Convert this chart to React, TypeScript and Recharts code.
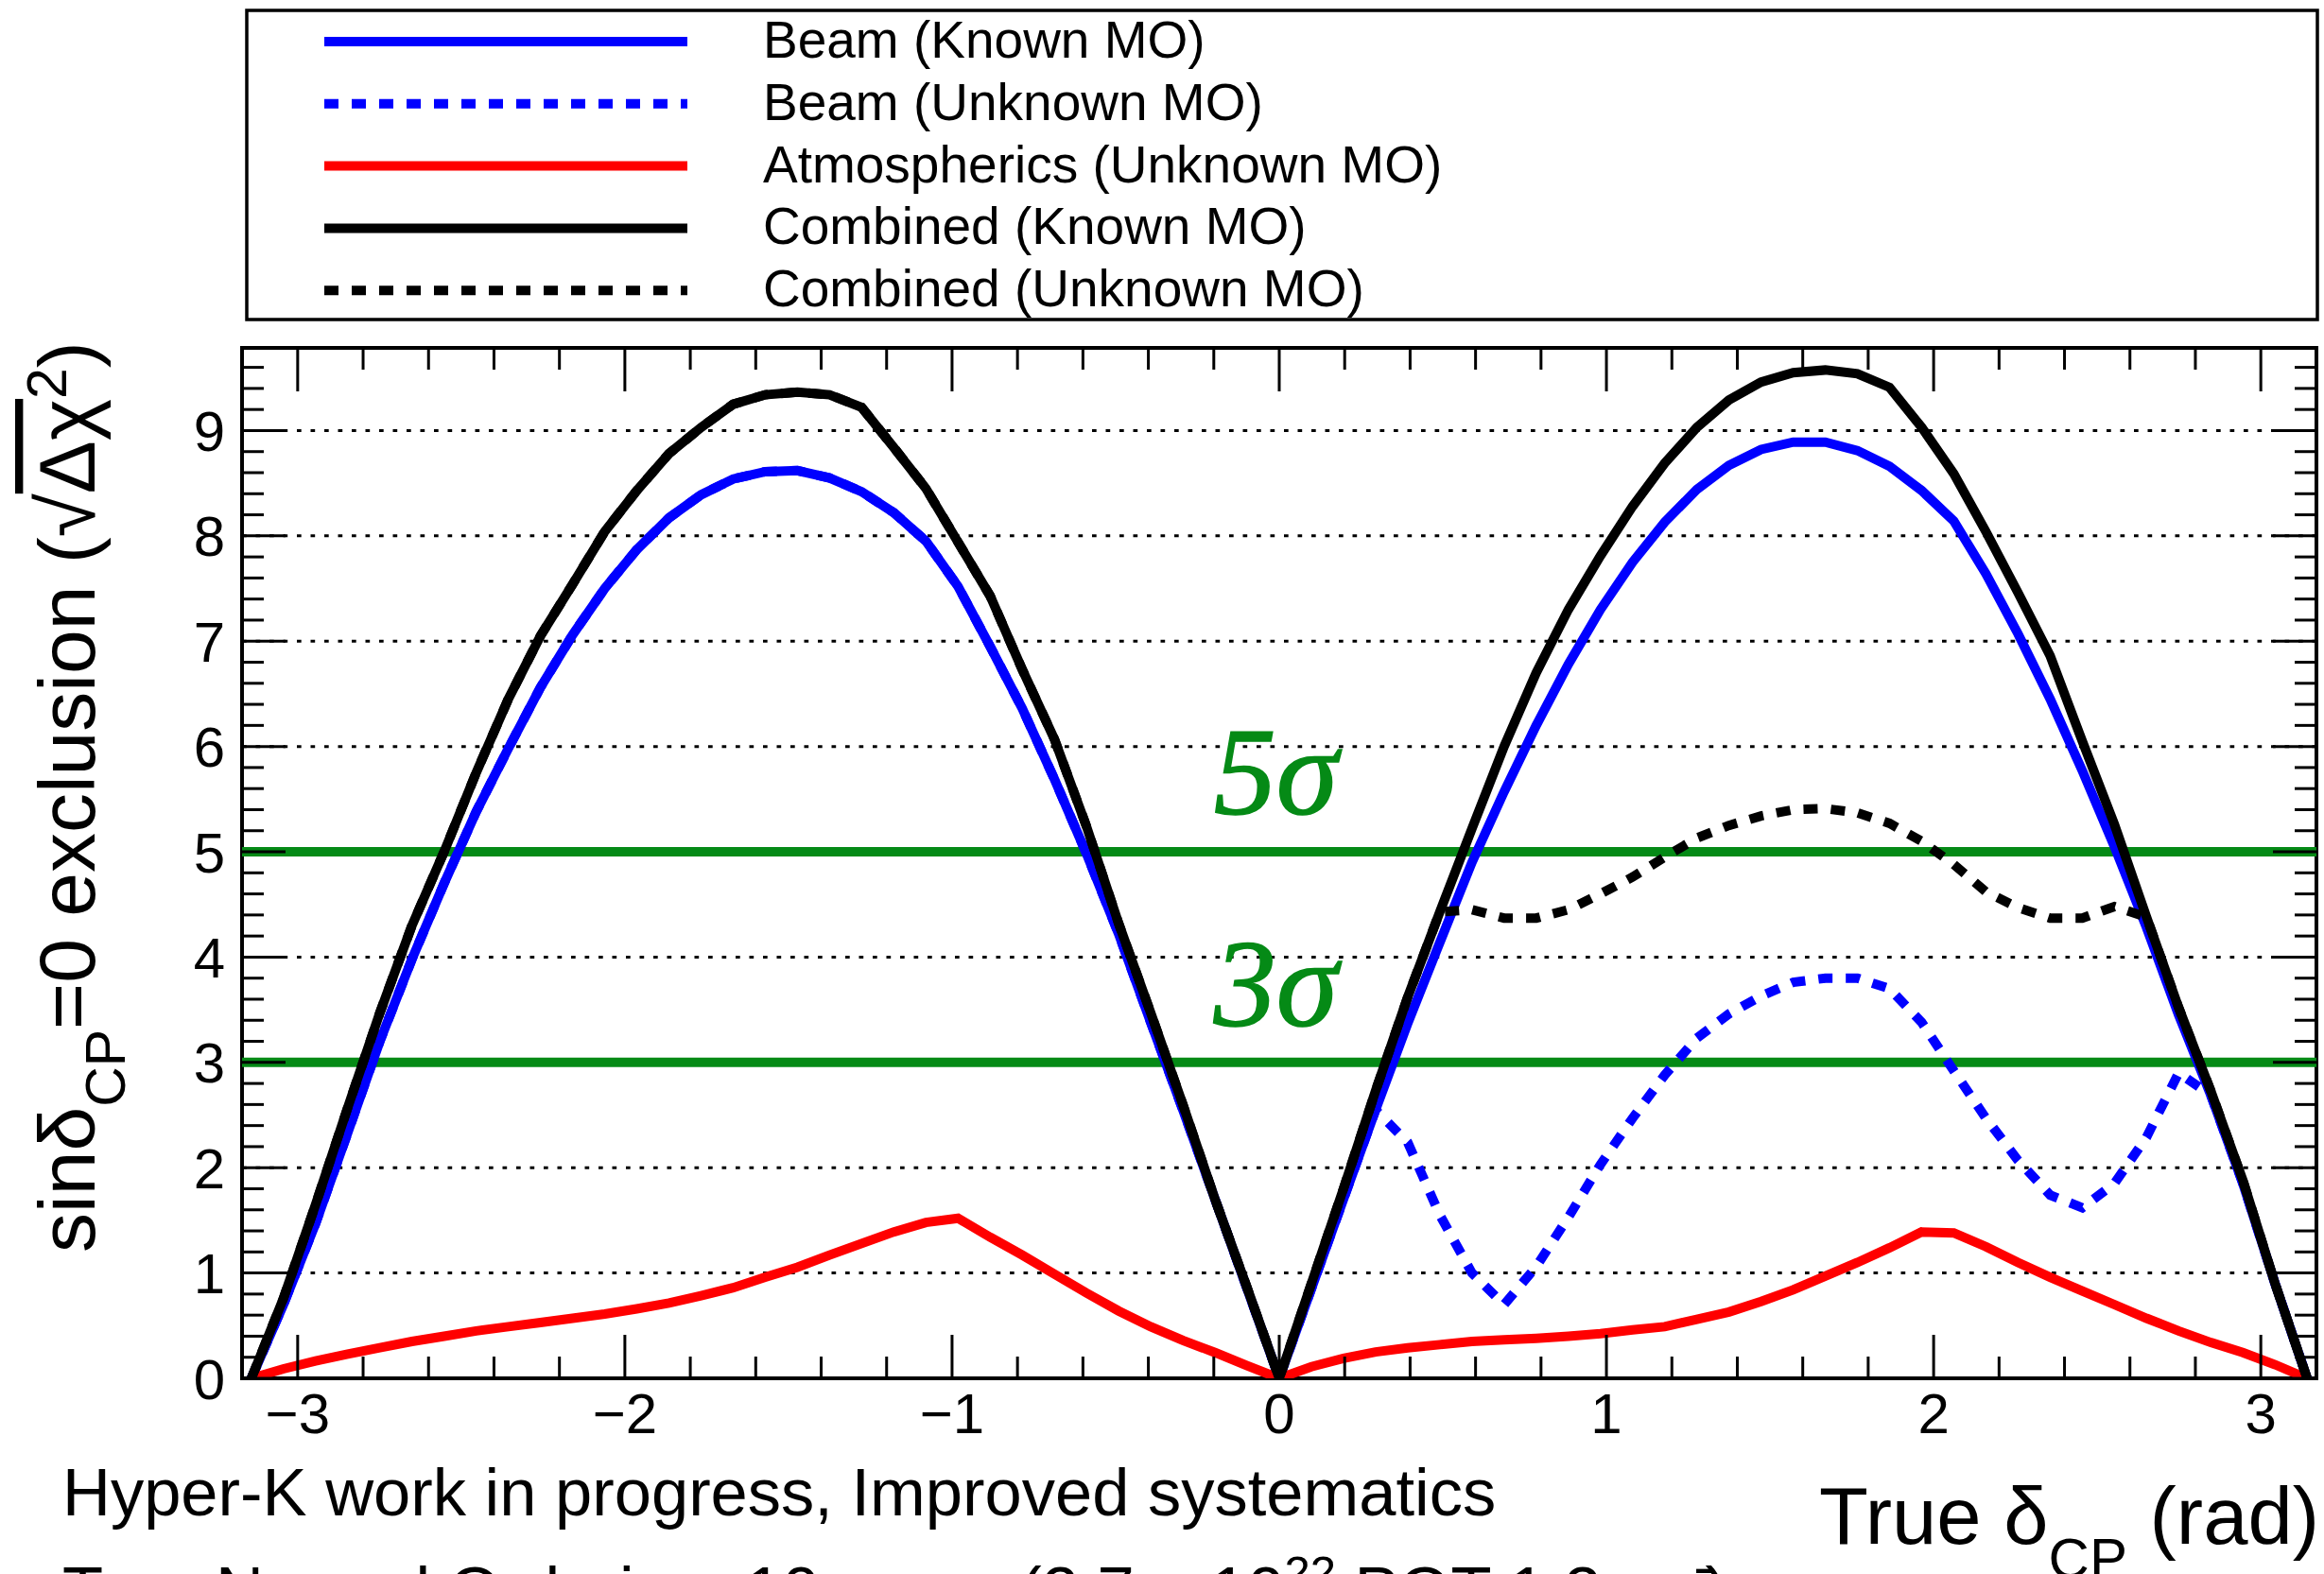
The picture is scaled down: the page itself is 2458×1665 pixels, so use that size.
import React from 'react';
import {
  ComposedChart,
  Line,
  XAxis,
  YAxis,
  CartesianGrid,
  ReferenceLine,
  ReferenceArea,
  ReferenceDot,
  Legend,
} from 'recharts';

const CHART_W = 2458;
const CHART_H = 1665;
// each side carries two 1px-wide axes (major + minor ticks), so the plot frame
// ends up at left 256, right 2450, top 368, bottom 1458
const MARGIN = { top: 366, right: 6, bottom: 205, left: 254 };
const X_DOMAIN: [number, number] = [-3.17, 3.17];
const Y_DOMAIN: [number, number] = [0, 9.785];

const SANS = '"Liberation Sans", Arial, Helvetica, sans-serif';
const SERIF = '"Liberation Serif", "Times New Roman", Times, serif';
const BLUE = '#0000ff';
const RED = '#ff0000';
const BLACK = '#000000';
const GREEN = '#058a16';
const DOTTED = '15 14';

// true delta_CP sampling points (rad)
const deltaCP = [
  -3.1416, -3.0434, -2.9452, -2.8471, -2.7489, -2.6507, -2.5525, -2.4544, -2.3562, -2.258, -2.1598,
  -2.0617, -1.9635, -1.8653, -1.7671, -1.669, -1.5708, -1.4726, -1.3744, -1.2763, -1.1781, -1.0799,
  -0.9817, -0.8836, -0.7854, -0.6872, -0.589, -0.4909, -0.3927, -0.2945, -0.1963, -0.0982, 0,
  0.0982, 0.1963, 0.2945, 0.3927, 0.4909, 0.589, 0.6872, 0.7854, 0.8836, 0.9817, 1.0799, 1.1781,
  1.2763, 1.3744, 1.4726, 1.5708, 1.669, 1.7671, 1.8653, 1.9635, 2.0617, 2.1598, 2.258, 2.3562,
  2.4544, 2.5525, 2.6507, 2.7489, 2.8471, 2.9452, 3.0434, 3.1416,
];

const beamKnown = [
  0, 0.7, 1.47, 2.33, 3.2, 3.98, 4.7, 5.38, 5.98, 6.56, 7.06,
  7.5, 7.87, 8.17, 8.39, 8.54, 8.61, 8.62, 8.55, 8.42, 8.22, 7.95,
  7.52, 6.95, 6.36, 5.69, 4.98, 4.22, 3.38, 2.55, 1.7, 0.85, 0,
  0.85, 1.7, 2.55, 3.37, 4.14, 4.9, 5.57, 6.2, 6.78, 7.3, 7.75, 8.13,
  8.44, 8.67, 8.82, 8.89, 8.89, 8.81, 8.66, 8.43, 8.14, 7.64, 7.07, 6.45,
  5.77, 5.05, 4.28, 3.45, 2.69, 1.85, 0.9, 0,
];

const beamUnknown = [
  0, 0.7, 1.47, 2.33, 3.2, 3.98, 4.7, 5.38, 5.98, 6.56, 7.06,
  7.5, 7.87, 8.17, 8.39, 8.54, 8.61, 8.62, 8.55, 8.42, 8.22, 7.95,
  7.52, 6.95, 6.36, 5.69, 4.98, 4.22, 3.38, 2.55, 1.7, 0.85, 0,
  0.85, 1.7, 2.55, 2.24, 1.55, 1.0, 0.7, 1.06, 1.53, 2.03, 2.47, 2.88,
  3.23, 3.46, 3.63, 3.76, 3.8, 3.8, 3.7, 3.38, 2.92, 2.47, 2.07, 1.74,
  1.62, 1.85, 2.29, 2.9, 2.69, 1.85, 0.9, 0,
];

const atmUnknown = [
  0, 0.09, 0.165, 0.23, 0.29, 0.35, 0.4, 0.45, 0.49, 0.53, 0.57,
  0.61, 0.66, 0.715, 0.785, 0.86, 0.96, 1.055, 1.17, 1.28, 1.39, 1.48,
  1.52, 1.34, 1.17, 0.99, 0.81, 0.64, 0.49, 0.36, 0.245, 0.12, 0,
  0.11, 0.19, 0.25, 0.29, 0.32, 0.35, 0.365, 0.38, 0.4, 0.425, 0.46, 0.49,
  0.56, 0.63, 0.73, 0.84, 0.97, 1.1, 1.24, 1.39, 1.38, 1.25, 1.1, 0.96,
  0.83, 0.7, 0.57, 0.45, 0.34, 0.245, 0.13, 0,
];

const combinedKnown = [
  0, 0.76, 1.65, 2.57, 3.47, 4.3, 5.0, 5.75, 6.45, 7.05, 7.54,
  8.04, 8.43, 8.78, 9.03, 9.25, 9.34, 9.365, 9.34, 9.22, 8.84, 8.45,
  7.94, 7.43, 6.73, 6.07, 5.24, 4.32, 3.47, 2.6, 1.7, 0.86, 0,
  0.9, 1.8, 2.73, 3.62, 4.43, 5.22, 6.0, 6.7, 7.3, 7.81, 8.28, 8.69,
  9.03, 9.29, 9.46, 9.55, 9.575, 9.54, 9.41, 9.03, 8.59, 8.04, 7.46, 6.86,
  6.05, 5.26, 4.38, 3.52, 2.73, 1.88, 0.9, 0,
];

const combinedUnknown = [
  0, 0.76, 1.65, 2.57, 3.47, 4.3, 5.0, 5.75, 6.45, 7.05, 7.54,
  8.04, 8.43, 8.78, 9.03, 9.25, 9.34, 9.365, 9.34, 9.22, 8.84, 8.45,
  7.94, 7.43, 6.73, 6.07, 5.24, 4.32, 3.47, 2.6, 1.7, 0.86, 0,
  0.9, 1.8, 2.73, 3.62, 4.43, 4.45, 4.37, 4.37, 4.45, 4.6, 4.76, 4.95,
  5.13, 5.25, 5.34, 5.4, 5.41, 5.37, 5.27, 5.1, 4.88, 4.62, 4.47, 4.37,
  4.37, 4.48, 4.38, 3.52, 2.73, 1.88, 0.9, 0,
];

const xMajorTicks = [-3, -2, -1, 0, 1, 2, 3];
const xMinorTicks = [
  -2.8, -2.6, -2.4, -2.2, -1.8, -1.6, -1.4, -1.2, -0.8, -0.6, -0.4, -0.2,
  0.2, 0.4, 0.6, 0.8, 1.2, 1.4, 1.6, 1.8, 2.2, 2.4, 2.6, 2.8,
];
const yMajorTicks = [0, 1, 2, 3, 4, 5, 6, 7, 8, 9];
const yMinorTicks = [
  0.2, 0.4, 0.6, 0.8, 1.2, 1.4, 1.6, 1.8, 2.2, 2.4, 2.6, 2.8, 3.2, 3.4, 3.6, 3.8,
  4.2, 4.4, 4.6, 4.8, 5.2, 5.4, 5.6, 5.8, 6.2, 6.4, 6.6, 6.8, 7.2, 7.4, 7.6, 7.8,
  8.2, 8.4, 8.6, 8.8, 9.2, 9.4, 9.6,
];
const gridLevels = [1, 2, 3, 4, 5, 6, 7, 8, 9];
const sigmaLevels = [3, 5];
const sigmaLabels = [
  { x: -0.2, y: 5.36, text: '5σ' },
  { x: -0.2, y: 3.345, text: '3σ' },
];

const seriesDefs = [
  { key: 'beamKnown', name: 'Beam (Known MO)', color: BLUE, dash: undefined as string | undefined },
  { key: 'beamUnknown', name: 'Beam (Unknown MO)', color: BLUE, dash: DOTTED },
  { key: 'atm', name: 'Atmospherics (Unknown MO)', color: RED, dash: undefined },
  { key: 'combKnown', name: 'Combined (Known MO)', color: BLACK, dash: undefined },
  { key: 'combUnknown', name: 'Combined (Unknown MO)', color: BLACK, dash: DOTTED },
];

const rows = deltaCP.map((x, i) => ({
  x,
  beamKnown: beamKnown[i],
  beamUnknown: beamUnknown[i],
  atm: atmUnknown[i],
  combKnown: combinedKnown[i],
  combUnknown: combinedUnknown[i],
}));

const MAJOR_LEN = 46;
const MINOR_LEN = 23;
const TICK_W = 3;
const LABEL_SIZE = 60;

const fmtX = (v: number) => (v < 0 ? '\u2212' + Math.abs(v) : String(v));

const BottomMajorTick = (p: any) => (
  <g>
    <line x1={p.x} x2={p.x} y1={p.y} y2={p.y - MAJOR_LEN} stroke={BLACK} strokeWidth={TICK_W} />
    <text x={p.x} y={p.y + 58} textAnchor="middle" fontFamily={SANS} fontSize={LABEL_SIZE} fill={BLACK}>
      {fmtX(p.payload.value)}
    </text>
  </g>
);
const BottomMinorTick = (p: any) => (
  <line x1={p.x} x2={p.x} y1={p.y - 1} y2={p.y - 1 - MINOR_LEN} stroke={BLACK} strokeWidth={TICK_W} />
);
const TopMajorTick = (p: any) => (
  <line x1={p.x} x2={p.x} y1={p.y} y2={p.y + MAJOR_LEN} stroke={BLACK} strokeWidth={TICK_W} />
);
const TopMinorTick = (p: any) => (
  <line x1={p.x} x2={p.x} y1={p.y + 1} y2={p.y + 1 + MINOR_LEN} stroke={BLACK} strokeWidth={TICK_W} />
);
const LeftMajorTick = (p: any) => (
  <g>
    <line x1={p.x} x2={p.x + MAJOR_LEN} y1={p.y} y2={p.y} stroke={BLACK} strokeWidth={TICK_W} />
    <text x={p.x - 18} y={p.y + 21.5} textAnchor="end" fontFamily={SANS} fontSize={LABEL_SIZE} fill={BLACK}>
      {String(p.payload.value)}
    </text>
  </g>
);
const LeftMinorTick = (p: any) => (
  <line x1={p.x + 1} x2={p.x + 1 + MINOR_LEN} y1={p.y} y2={p.y} stroke={BLACK} strokeWidth={TICK_W} />
);
const RightMajorTick = (p: any) => (
  <line x1={p.x} x2={p.x - MAJOR_LEN} y1={p.y} y2={p.y} stroke={BLACK} strokeWidth={TICK_W} />
);
const RightMinorTick = (p: any) => (
  <line x1={p.x - 1} x2={p.x - 1 - MINOR_LEN} y1={p.y} y2={p.y} stroke={BLACK} strokeWidth={TICK_W} />
);

const LegendBox = () => (
  <svg width={CHART_W} height={345} style={{ display: 'block' }}>
    <rect x={261} y={11} width={2190} height={327} fill="#ffffff" stroke={BLACK} strokeWidth={3.5} />
    {seriesDefs.map((s, i) => {
      const cy = 44 + i * 65.8;
      return (
        <g key={s.key}>
          <line x1={343} x2={727} y1={cy} y2={cy} stroke={s.color} strokeWidth={10} strokeDasharray={s.dash} />
          <text x={807} y={cy + 17} fontFamily={SANS} fontSize={55} fill={BLACK}>
            {s.name}
          </text>
        </g>
      );
    })}
  </svg>
);

const sigmaShape = (text: string) => (p: any) => (
  <text
    x={p.cx}
    y={p.cy}
    fontFamily={SERIF}
    fontStyle="italic"
    fontSize={132}
    fill={GREEN}
    stroke={GREEN}
    strokeWidth={1.5}
  >
    {text}
  </text>
);

const axisCommon = {
  type: 'number' as const,
  tickLine: false,
  axisLine: false,
  tickSize: 0,
  tickMargin: 0,
  interval: 0 as const,
  allowDataOverflow: true,
};

export default function App() {
  return (
    <div style={{ position: 'absolute', left: 0, top: 0, width: CHART_W, height: CHART_H, background: '#fff' }}>
      <ComposedChart width={CHART_W} height={CHART_H} data={rows} margin={MARGIN}>
        <CartesianGrid
          xAxisId="x"
          yAxisId="y"
          vertical={false}
          horizontalValues={gridLevels}
          stroke={BLACK}
          strokeWidth={3}
          strokeDasharray="4.7 9.8"
        />
        {sigmaLevels.map((lv) => (
          <ReferenceLine key={lv} xAxisId="x" yAxisId="y" y={lv} stroke={GREEN} strokeWidth={10} />
        ))}
        {seriesDefs.map((s) => (
          <Line
            key={s.key}
            xAxisId="x"
            yAxisId="y"
            type="linear"
            dataKey={s.key}
            name={s.name}
            stroke={s.color}
            strokeWidth={10}
            strokeDasharray={s.dash}
            dot={false}
            activeDot={false}
            isAnimationActive={false}
          />
        ))}
        {sigmaLabels.map((l) => (
          <ReferenceDot
            key={l.text}
            xAxisId="x"
            yAxisId="y"
            x={l.x}
            y={l.y}
            r={1}
            shape={sigmaShape(l.text)}
          />
        ))}
        <ReferenceArea
          xAxisId="x"
          yAxisId="y"
          x1={X_DOMAIN[0]}
          x2={X_DOMAIN[1]}
          y1={Y_DOMAIN[0]}
          y2={Y_DOMAIN[1]}
          fill="none"
          fillOpacity={0}
          stroke={BLACK}
          strokeWidth={4}
          ifOverflow="visible"
        />
        <XAxis {...axisCommon} xAxisId="x" dataKey="x" domain={X_DOMAIN} ticks={xMajorTicks} height={1} tick={<BottomMajorTick />} />
        <XAxis {...axisCommon} xAxisId="xMinor" dataKey="x" domain={X_DOMAIN} ticks={xMinorTicks} height={1} tick={<BottomMinorTick />} />
        <XAxis {...axisCommon} xAxisId="xTop" orientation="top" dataKey="x" domain={X_DOMAIN} ticks={xMajorTicks} height={1} tick={<TopMajorTick />} />
        <XAxis {...axisCommon} xAxisId="xTopMinor" orientation="top" dataKey="x" domain={X_DOMAIN} ticks={xMinorTicks} height={1} tick={<TopMinorTick />} />
        <YAxis {...axisCommon} yAxisId="y" domain={Y_DOMAIN} ticks={yMajorTicks} width={1} tick={<LeftMajorTick />} />
        <YAxis {...axisCommon} yAxisId="yMinor" domain={Y_DOMAIN} ticks={yMinorTicks} width={1} tick={<LeftMinorTick />} />
        <YAxis {...axisCommon} yAxisId="yRight" orientation="right" domain={Y_DOMAIN} ticks={yMajorTicks} width={1} tick={<RightMajorTick />} />
        <YAxis {...axisCommon} yAxisId="yRightMinor" orientation="right" domain={Y_DOMAIN} ticks={yMinorTicks} width={1} tick={<RightMinorTick />} />
        <Legend
          layout="vertical"
          align="center"
          verticalAlign="middle"
          wrapperStyle={{ left: 0, top: 0, width: CHART_W, height: 345 }}
          content={() => <LegendBox />}
        />
        <text transform="rotate(-90)" x={-1325} y={100} fontFamily={SANS} fontSize={84} fill={BLACK}>
          sinδ
          <tspan dy={32} fontSize={59}>CP</tspan>
          <tspan dy={-32}>=0 exclusion (√</tspan>
          <tspan textDecoration="overline">Δχ</tspan>
          <tspan dy={-30} fontSize={59}>2</tspan>
          <tspan dy={30}>)</tspan>
        </text>
        <text x={2453} y={1633} textAnchor="end" fontFamily={SANS} fontSize={85} fill={BLACK}>
          True δ
          <tspan dy={36} fontSize={60}>CP</tspan>
          <tspan dy={-36}> (rad)</tspan>
        </text>
        <text x={66} y={1603} fontFamily={SANS} fontSize={70.5} fill={BLACK}>
          Hyper-K work in progress, Improved systematics
        </text>
        <text x={66} y={1707} fontFamily={SANS} fontSize={70.5} fill={BLACK}>
          True Normal Ordering, 10 years (2.7 × 10
          <tspan dy={-27} fontSize={49}>22</tspan>
          <tspan dy={27}> POT 1:3 ν:ν̄)</tspan>
        </text>
      </ComposedChart>
    </div>
  );
}
